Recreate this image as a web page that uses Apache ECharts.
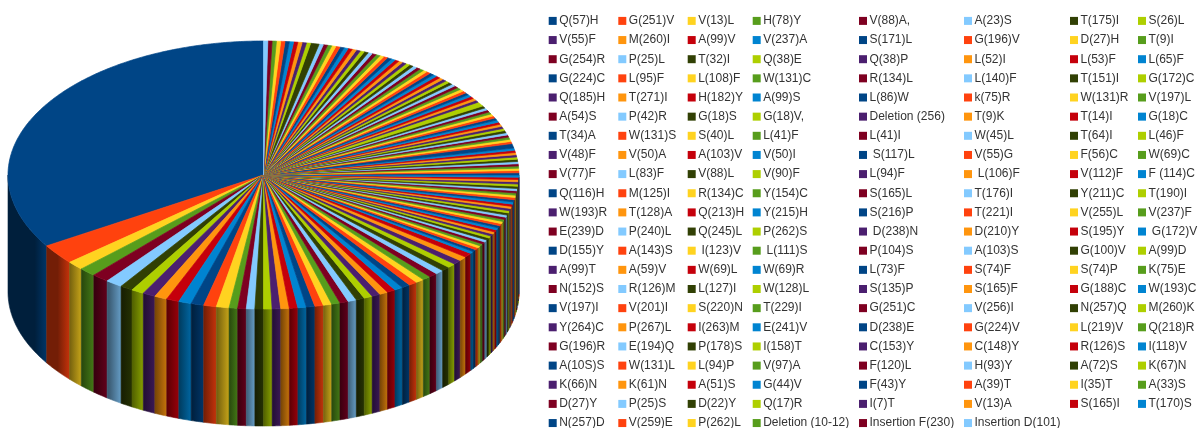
<!DOCTYPE html>
<html>
<head>
<meta charset="utf-8">
<style>
  html, body { margin: 0; padding: 0; background: #fff; }
  #main { width: 1198px; height: 428px; }
  /* the source is a soft upscaled screenshot */
  #main canvas { filter: blur(0.4px); }
</style>
<script src="https://cdn.jsdelivr.net/npm/echarts@6/dist/echarts.min.js"></script>
</head>
<body>
<div id="main"></div>
<script>
const palette = ['#004586', '#ff420e', '#ffd320', '#579d1c', '#7e0021', '#83caff',
                 '#314004', '#aecf00', '#4b1f6f', '#ff950e', '#c5000b', '#0084d1'];

// legend reads row by row, 8 to a row
const mutations = [
    'Q(57)H', 'G(251)V', 'V(13)L', 'H(78)Y', 'V(88)A,', 'A(23)S', 'T(175)I', 'S(26)L',
    'V(55)F', 'M(260)I', 'A(99)V', 'V(237)A', 'S(171)L', 'G(196)V', 'D(27)H', 'T(9)I',
    'G(254)R', 'P(25)L', 'T(32)I', 'Q(38)E', 'Q(38)P', 'L(52)I', 'L(53)F', 'L(65)F',
    'G(224)C', 'L(95)F', 'L(108)F', 'W(131)C', 'R(134)L', 'L(140)F', 'T(151)I', 'G(172)C',
    'Q(185)H', 'T(271)I', 'H(182)Y', 'A(99)S', 'L(86)W', 'k(75)R', 'W(131)R', 'V(197)L',
    'A(54)S', 'P(42)R', 'G(18)S', 'G(18)V,', 'Deletion (256)', 'T(9)K', 'T(14)I', 'G(18)C',
    'T(34)A', 'W(131)S', 'S(40)L', 'L(41)F', 'L(41)I', 'W(45)L', 'T(64)I', 'L(46)F',
    'V(48)F', 'V(50)A', 'A(103)V', 'V(50)I', ' S(117)L', 'V(55)G', 'F(56)C', 'W(69)C',
    'V(77)F', 'L(83)F', 'V(88)L', 'V(90)F', 'L(94)F', ' L(106)F', 'V(112)F', 'F (114)C',
    'Q(116)H', 'M(125)I', 'R(134)C', 'Y(154)C', 'S(165)L', 'T(176)I', 'Y(211)C', 'T(190)I',
    'W(193)R', 'T(128)A', 'Q(213)H', 'Y(215)H', 'S(216)P', 'T(221)I', 'V(255)L', 'V(237)F',
    'E(239)D', 'P(240)L', 'Q(245)L', 'P(262)S', ' D(238)N', 'D(210)Y', 'S(195)Y', ' G(172)V',
    'D(155)Y', 'A(143)S', ' I(123)V', ' L(111)S', 'P(104)S', 'A(103)S', 'G(100)V', 'A(99)D',
    'A(99)T', 'A(59)V', 'W(69)L', 'W(69)R', 'L(73)F', 'S(74)F', 'S(74)P', 'K(75)E',
    'N(152)S', 'R(126)M', 'L(127)I', 'W(128)L', 'S(135)P', 'S(165)F', 'G(188)C', 'W(193)C',
    'V(197)I', 'V(201)I', 'S(220)N', 'T(229)I', 'G(251)C', 'V(256)I', 'N(257)Q', 'M(260)K',
    'Y(264)C', 'P(267)L', 'I(263)M', 'E(241)V', 'D(238)E', 'G(224)V', 'L(219)V', 'Q(218)R',
    'G(196)R', 'E(194)Q', 'P(178)S', 'I(158)T', 'C(153)Y', 'C(148)Y', 'R(126)S', 'I(118)V',
    'A(10S)S', 'W(131)L', 'L(94)P', 'V(97)A', 'F(120)L', 'H(93)Y', 'A(72)S', 'K(67)N',
    'K(66)N', 'K(61)N', 'A(51)S', 'G(44)V', 'F(43)Y', 'A(39)T', 'I(35)T', 'A(33)S',
    'D(27)Y', 'P(25)S', 'D(22)Y', 'Q(17)R', 'I(7)T', 'V(13)A', 'S(165)I', 'T(170)S',
    'N(257)D', 'V(259)E', 'P(262)L', 'Deletion (10-12)', 'Insertion F(230)', 'Insertion D(101)'
];

// case counts, same order as mutations
const cases = [
    126, 9, 4, 4, 4, 4, 3, 3,
    3, 3, 3, 3, 3, 3, 3, 2,
    2, 2, 2, 2, 2, 2, 2, 2,
    2, 2, 2, 2, 2, 2, 2, 2,
    2, 2, 2, 2, 2, 2, 2, 2,
    2, 2, 2, 2, 2, 2, 2, 1,
    1, 1, 1, 1, 1, 1, 1, 1,
    1, 1, 1, 1, 1, 1, 1, 1,
    1, 1, 1, 1, 1, 1, 1, 1,
    1, 1, 1, 1, 1, 1, 1, 1,
    1, 1, 1, 1, 1, 1, 1, 1,
    1, 1, 1, 1, 1, 1, 1, 1,
    2, 1, 1, 1, 1, 1, 1, 1,
    1, 1, 1, 1, 1, 1, 1, 1,
    1, 1, 1, 2, 1, 1, 1, 1,
    1, 1, 1, 1, 1, 1, 1, 1,
    1, 1, 1, 1, 1, 1, 1, 1,
    1, 1, 1, 1, 1, 1, 1, 1,
    1, 1, 1, 1, 1, 1, 1, 1,
    1, 1, 1, 1, 1, 1, 1, 1,
    1, 1, 2, 1, 1, 1, 1, 1,
    1, 1, 1, 1, 1, 1
];

const legendColumnX = [548.7, 618.3, 687.7, 752.7, 859, 964, 1070, 1138];

// pie geometry
const cx = 263.5, cy = 175, rx = 255.5, ry = 134, depth = 117;

const total = cases.reduce((a, b) => a + b, 0);
const startAngles = [];
cases.reduce((sum, v, i) => {
    startAngles[i] = sum / total * Math.PI * 2;
    return sum + v;
}, 0);

// slices go anticlockwise from 12 o'clock
const rim = (t) => [cx - rx * Math.sin(t), cy - ry * Math.cos(t)];

const arcPoints = (a0, a1) => {
    const n = Math.max(2, Math.ceil((a1 - a0) / 0.01));
    const pts = [];
    for (let k = 0; k <= n; k++) {
        pts.push(rim(a0 + (a1 - a0) * k / n));
    }
    return pts;
};

const shade = (hex, f) => {
    const c = echarts.color.parse(hex);
    return `rgb(${Math.round(c[0] * f)},${Math.round(c[1] * f)},${Math.round(c[2] * f)})`;
};

const renderSlice = (params, api) => {
    const i = params.seriesIndex;
    const a0 = startAngles[i];
    const a1 = a0 + api.value(0) / total * Math.PI * 2;
    const color = api.visual('color');
    const children = [];

    // side wall, only the front half of the drum shows
    const w0 = Math.max(a0, Math.PI / 2);
    const w1 = Math.min(a1, Math.PI * 1.5);
    if (w1 > w0) {
        const top = arcPoints(w0, w1);
        const bottom = top.map((p) => [p[0], p[1] + depth]).reverse();
        const xs = top.map((p) => p[0]);
        const w = Math.max(...xs) - Math.min(...xs);
        const bright = Math.max(0, 1 - 12 / w);
        const wallFill = new echarts.graphic.LinearGradient(0, 0, 1, 0, [
            { offset: 0, color: shade(color, 0.45) },
            { offset: bright, color: shade(color, 0.45) },
            { offset: 1, color: shade(color, 0.78) }
        ]);
        children.push({
            type: 'polygon',
            shape: { points: top.concat(bottom) },
            style: { fill: wallFill, stroke: wallFill, lineWidth: 0.6 }
        });
    }

    // own colour stroke closes the white seams between thin wedges
    children.push({
        type: 'polygon',
        shape: { points: [[cx, cy]].concat(arcPoints(a0, a1)) },
        style: { fill: color, stroke: color, lineWidth: 0.7, lineJoin: 'bevel' }
    });

    return { type: 'group', children };
};

const series = mutations.map((name, i) => ({
    type: 'custom',
    name,
    coordinateSystem: 'none',
    renderItem: renderSlice,
    data: [[cases[i]]],
    silent: true
}));

const legends = legendColumnX.map((left, col) => ({
    left,
    top: 13.9,
    height: 600,
    orient: 'vertical',
    selectedMode: false,
    icon: 'rect',
    itemWidth: 8,
    itemHeight: 8,
    itemGap: 5.15,
    padding: 0,
    data: mutations.filter((m, i) => i % 8 === col),
    textStyle: {
        fontFamily: '"Liberation Sans", Arial, sans-serif',
        fontSize: 12,
        color: '#333',
        height: 14,
        lineHeight: 14,
        padding: [0, 0, 0, -2.5]
    }
}));

const myChart = echarts.init(document.getElementById('main'), null, { renderer: 'canvas' });
myChart.setOption({
    animation: false,
    backgroundColor: '#fff',
    color: palette,
    legend: legends,
    series
});
</script>
</body>
</html>
